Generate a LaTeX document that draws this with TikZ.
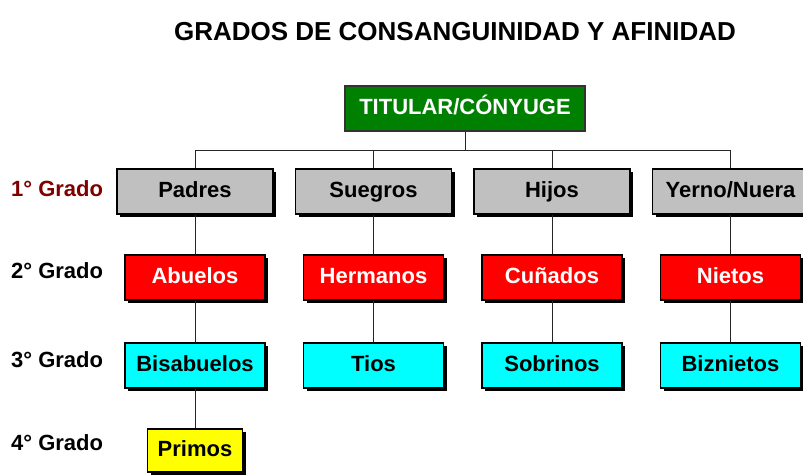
\documentclass[tikz,border=0pt]{standalone}
\usepackage{fontspec}
\setmainfont{Liberation Sans}
\usetikzlibrary{shadows}
\definecolor{boxgray}{HTML}{C0C0C0}
\definecolor{boxgreen}{HTML}{008000}
\definecolor{boxred}{HTML}{FF0000}
\definecolor{boxcyan}{HTML}{00FFFF}
\definecolor{boxyellow}{HTML}{FFFF00}
\definecolor{gradored}{HTML}{800000}
\begin{document}
\begin{tikzpicture}[x=1pt,y=-1pt,
  txt/.style={font=\fontsize{22}{26}\selectfont\bfseries},
  box/.style={txt,draw=black,line width=1.3pt,rectangle,inner sep=0pt,
    minimum height=45pt,text height=16pt,text depth=4.5pt,
    general shadow={fill=black,shadow xshift=3pt,shadow yshift=-3pt}},
  graybox/.style={box,fill=boxgray,minimum width=156pt},
  redbox/.style={box,fill=boxred,text=white,minimum width=140pt},
  cyanbox/.style={box,fill=boxcyan,minimum width=140pt},
  yellowbox/.style={box,fill=boxyellow,minimum width=95pt,minimum height=43pt},
  titbox/.style={txt,draw=black!80,line width=1.3pt,fill=boxgreen,text=white,
    minimum width=240pt,minimum height=45pt,inner sep=0pt,text height=16pt,text depth=4.5pt},
  conn/.style={draw=black!85,line width=1pt},
  grado/.style={txt,anchor=west,inner sep=0pt,text height=16pt,text depth=4.5pt}
]
\useasboundingbox (0,0) rectangle (803,474);
\clip (0,0) rectangle (803,474);
\fill[white] (0,0) rectangle (803,474);

\node[txt,font=\fontsize{26}{30}\selectfont\bfseries] (title) at (455,32) {GRADOS DE CONSANGUINIDAD Y AFINIDAD};

\node[titbox] (tit) at (465,108.5) {TITULAR/CÓNYUGE};

\node[graybox] (padres) at (195,191.5) {Padres};
\node[graybox] (suegros) at (373.5,191.5) {Suegros};
\node[graybox] (hijos) at (552,191.5) {Hijos};
\node[graybox] (yerno) at (730.5,191.5) {Yerno/Nuera};

\node[redbox] (abuelos) at (195,277.5) {Abuelos};
\node[redbox] (hermanos) at (373.5,277.5) {Hermanos};
\node[redbox] (cunados) at (552,277.5) {Cuñados};
\node[redbox] (nietos) at (730.5,277.5) {Nietos};

\node[cyanbox] (bisabuelos) at (195,365.5) {Bisabuelos};
\node[cyanbox] (tios) at (373.5,365.5) {Tios};
\node[cyanbox] (sobrinos) at (552,365.5) {Sobrinos};
\node[cyanbox] (biznietos) at (730.5,365.5) {Biznietos};

\node[yellowbox] (primos) at (195,450.5) {Primos};

\node[grado,text=gradored] (g1) at (11,191) {1° Grado};
\node[grado] (g2) at (11,273) {2° Grado};
\node[grado] (g3) at (11,362) {3° Grado};
\node[grado] (g4) at (11,445) {4° Grado};

\coordinate (barL) at (195,150);
\coordinate (barR) at (730.5,150);
\coordinate (barM) at (465,150);

\draw[conn] (tit.south) -- (barM);
\draw[conn] (barL) -- (barR);
\draw[conn] (barL) -- (padres.north);
\draw[conn] (suegros.north |- barL) -- (suegros.north);
\draw[conn] (hijos.north |- barL) -- (hijos.north);
\draw[conn] (barR) -- (yerno.north);
\draw[conn] (padres.south) -- (abuelos.north);
\draw[conn] (suegros.south) -- (hermanos.north);
\draw[conn] (hijos.south) -- (cunados.north);
\draw[conn] (yerno.south) -- (nietos.north);
\draw[conn] (abuelos.south) -- (bisabuelos.north);
\draw[conn] (hermanos.south) -- (tios.north);
\draw[conn] (cunados.south) -- (sobrinos.north);
\draw[conn] (nietos.south) -- (biznietos.north);
\draw[conn] (bisabuelos.south) -- (primos.north);
\end{tikzpicture}
\end{document}
